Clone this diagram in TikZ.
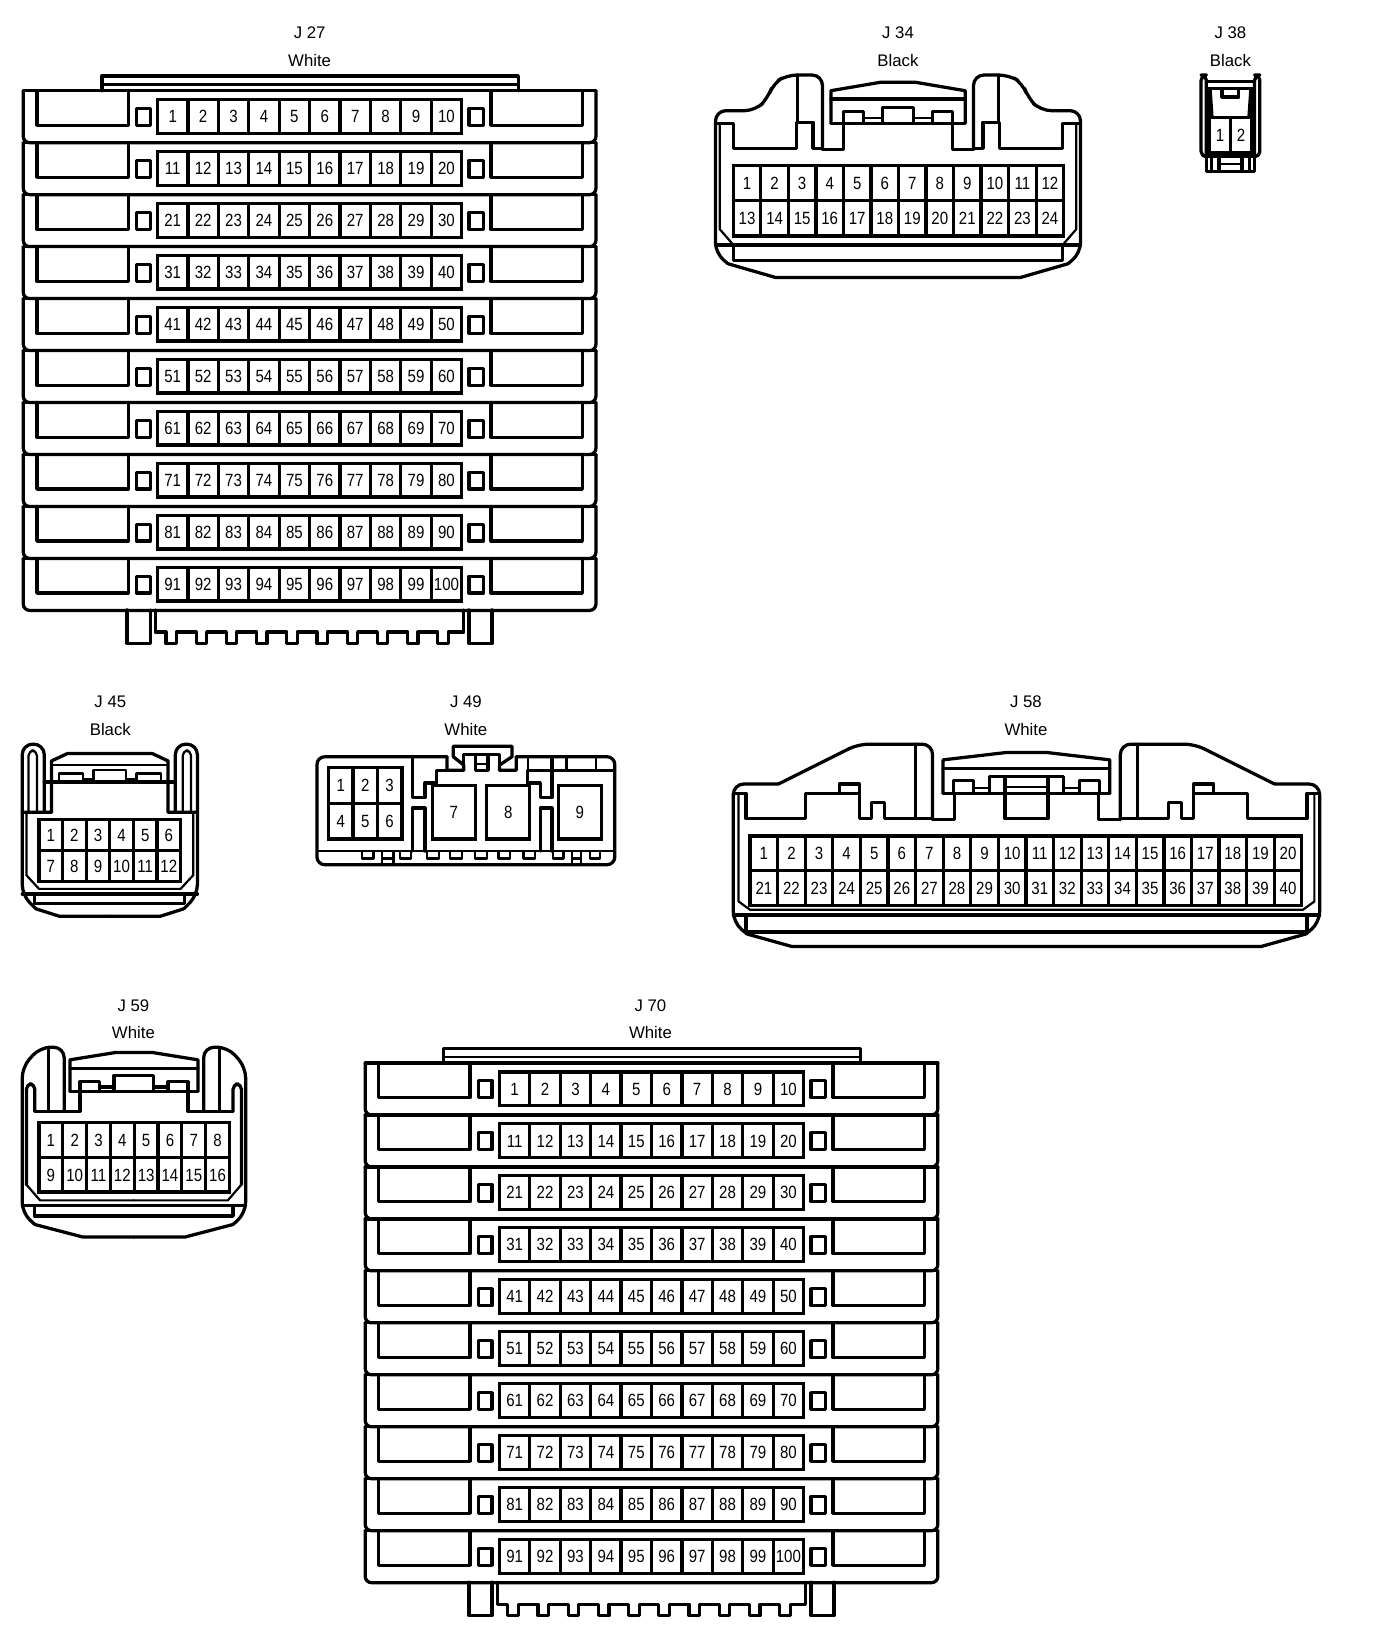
\documentclass[tikz,border=0pt]{standalone}
\usepackage{fontspec}
\setmainfont{Liberation Sans}
\newfontfamily\pinfont[FakeStretch=0.85]{Liberation Sans}
\usetikzlibrary{positioning}

% One block of numbered pin cells: prefix, left, top, columns, rows, cell width, cell height, first number
\newcommand{\pinblock}[8]{%
  \foreach \row in {1,...,#5} {
    \foreach \col in {1,...,#4} {
      \pgfmathsetmacro{\cx}{#2+(\col-0.5)*#6}
      \pgfmathsetmacro{\cy}{#3+(\row-0.5)*#7}
      \pgfmathtruncatemacro{\num}{#8+(\row-1)*#4+\col-1}
      \node[pin, minimum width=#6*0.2mm, minimum height=#7*0.2mm] (#1p\num) at (\cx,\cy) {\num};
    }
  }
}

\begin{document}
\begin{tikzpicture}[x=0.2mm,y=-0.2mm]
% Define styles
\tikzstyle{pin} = [rectangle, draw, line width=0.62mm, inner sep=0pt, outer sep=0pt, text height=6.9pt, text depth=0pt, font=\pinfont\fontsize{9.6}{10}\selectfont]
\tikzstyle{lbl} = [inner sep=0pt, font=\fontsize{9.1}{10}\selectfont]
\tikzstyle{wall} = [line width=0.62mm, line join=round, line cap=round]
\tikzstyle{thin wall} = [line width=0.42mm, line join=round, line cap=round]

\useasboundingbox (-0.2,-1.5) rectangle (1311.8,1567.9);

% Connector labels
\foreach \name/\colr/\lx/\ly in {J 27/White/295/30, J 34/Black/856/30, J 38/Black/1173/30, J 45/Black/105/668, J 49/White/444/668, J 58/White/978/668, J 59/White/127/957, J 70/White/620/957} {
  \node[lbl] (n\lx) at (\lx,\ly) {\name};
  \pgfmathsetmacro{\lc}{\ly+26}
  \node[lbl] (c\lx) at (\lx,\lc) {\colr};
}

% J 27 and J 70, ten stacked rows
\foreach \conn/\dx/\dy in {J27/0/0, J70/326/927} {
\begin{scope}[shift={(\dx,\dy)}]
  \draw[wall] (97,85) -- (97,71) -- (494,71) -- (494,85);
  \draw[thin wall] (97,79) -- (494,79);
  \foreach \row in {0,...,9} {
    \pgfmathsetmacro{\rt}{85+49.55*\row}
    \pgfmathsetmacro{\rb}{\rt+49.55}
    \pgfmathsetmacro{\rp}{\rt+33}
    \pgfmathsetmacro{\sa}{\rt+17}
    \pgfmathsetmacro{\sb}{\rt+33}
    \pgfmathsetmacro{\pt}{\rt+8.5}
    \pgfmathtruncatemacro{\first}{\row*10+1}
    \draw[wall, rounded corners=1.2mm] (22,\rt) -- (22,\rb) -- (568,\rb) -- (568,\rt);
    \draw[wall] (22,\rt) -- (568,\rt);
    \draw[wall] (35,\rt) -- (35,\rp) -- (122,\rp) -- (122,\rt);
    \draw[wall] (468,\rt) -- (468,\rp) -- (555,\rp) -- (555,\rt);
    \draw[wall] (130,\sa) rectangle (143,\sb);
    \draw[wall] (447,\sa) rectangle (461,\sb);
    \pinblock{\conn}{150}{\pt}{10}{1}{29}{32}{\first}
  }
  % legs and comb
  \draw[wall] (121,580) -- (121,612) -- (143,612) -- (143,580);
  \draw[wall] (447,580) -- (447,612) -- (469,612) -- (469,580);
  \draw[wall] (148,580) -- (148,601)
    \foreach \t in {0,...,9} { -- ({158+28.8*\t},601) -- ({158+28.8*\t},612) -- ({168+28.8*\t},612) -- ({168+28.8*\t},601) }
    -- (442,601) -- (442,580);
\end{scope}
}

% J 34
\foreach \flip in {1,-1} {
\begin{scope}[shift={(856,0)},xscale=\flip,shift={(-856,0)}]
  \draw[wall] (856,263) -- (739,263) -- (694,250);
  \draw[wall, rounded corners=2mm] (694,250) -- (682,240) -- (682,104) -- (720,104) -- (732,92) -- (737,78) -- (750,70) -- (784,70) -- (784,141);
  \draw[wall] (784,141) -- (804,141) -- (804,116);
  \draw[wall] (792,116) -- (792,85) -- (839,77) -- (856,77);
  \draw[wall] (792,93) -- (856,93);
  \draw[wall] (792,116) -- (856,116);
  \draw[wall] (804,116) -- (804,105) -- (823,105) -- (823,116);
  \draw[wall] (841,116) -- (841,101) -- (856,101);
  \draw[thin wall] (823,111) -- (841,111);
  \draw[wall] (760,70) -- (760,115);
  \draw[wall] (682,116) -- (699,116) -- (699,140) -- (759,140) -- (759,115) -- (775,115) -- (775,140) -- (784,140);
  \draw[thin wall] (686,116) -- (686,217) -- (699,232);
  \draw[wall] (682,232) -- (856,232);
  \draw[wall] (699,232) -- (699,247) -- (856,247);
\end{scope}
}
\pinblock{J34}{699}{156.5}{12}{2}{26.25}{33.5}{1}

% J 38
\draw[wall, rounded corners=1mm] (1150,148) -- (1145,148) -- (1145,70) -- (1150,70) -- (1150,148);
\draw[wall, rounded corners=1mm] (1196,148) -- (1201,148) -- (1201,70) -- (1196,70) -- (1196,148);
\draw[wall] (1150,148) -- (1196,148);
\draw[wall] (1150,76) -- (1196,76);
\draw[wall] (1152,83) -- (1194,83);
\draw[wall] (1165,84) -- (1165,91) -- (1181,91) -- (1181,84);
\fill (1150,82) -- (1155,82) -- (1157,111) -- (1150,111) -- cycle;
\fill (1196,82) -- (1191,82) -- (1189,111) -- (1196,111) -- cycle;
\pinblock{J38}{1153}{110.5}{2}{1}{20}{34}{1}
\draw[wall] (1150,148) -- (1150,162) -- (1196,162) -- (1196,148);
\draw[wall] (1155,148) -- (1155,162);
\draw[wall] (1191,148) -- (1191,162);
\draw[wall] (1162,148) -- (1162,162);
\draw[wall] (1184,148) -- (1184,162);
\draw[thin wall] (1162,155) -- (1184,155);

% J 45
\foreach \flip in {1,-1} {
\begin{scope}[shift={(104.5,0)},xscale=\flip,shift={(-104.5,0)}]
  \draw[wall] (104.5,872) -- (56,872) -- (34,865);
  \draw[wall, rounded corners=2mm] (34,865) -- (21,852) -- (21,708) -- (42,708) -- (42,773);
  \draw[wall] (21,773) -- (49,773) -- (49,724) -- (64,717) -- (104.5,717);
  \draw[thin wall] (49,728) -- (104.5,728);
  \draw[wall] (42,744) -- (104.5,744);
  \draw[thin wall, rounded corners=1mm] (27,773) -- (27,714) -- (35,714) -- (35,773);
  \draw[thin wall] (56,744) -- (56,736) -- (79,736) -- (79,744);
  \draw[thin wall] (89,744) -- (89,733) -- (104.5,733);
  \draw[thin wall] (79,741) -- (89,741);
  \draw[thin wall] (25,773) -- (25,833) -- (37,846) -- (104.5,846);
  \draw[wall] (21,851) -- (104.5,851);
  \draw[wall] (33,851) -- (33,860) -- (104.5,860);
\end{scope}
}
\pinblock{J45}{37}{780}{6}{2}{22.5}{29.5}{1}

% J 49
\draw[wall, rounded corners=1.5mm] (492,720) -- (586,720) -- (586,823) -- (302,823) -- (302,720) -- (426,720);
\draw[wall] (426,720) -- (426,733) -- (442,733) -- (442,728) -- (432,720) -- (432,710) -- (488,710) -- (488,720) -- (476,728) -- (476,733) -- (492,733) -- (492,720);
\draw[wall] (442,728) -- (442,718) -- (476,718) -- (476,728);
\draw[wall] (453,720) -- (453,733) -- (465,733) -- (465,720);
\draw[thin wall] (453,727) -- (465,727);
\draw[wall] (393,720) -- (393,759) -- (405,759) -- (405,745) -- (416,745) -- (416,733) -- (426,733);
\draw[wall] (503,733) -- (586,733);
\draw[wall] (503,733) -- (503,745) -- (515,745) -- (515,759) -- (526,759) -- (526,720);
\draw[thin wall] (503,720) -- (503,733);
\draw[thin wall] (540,720) -- (540,733);
\draw[thin wall] (568,720) -- (568,733);
\pinblock{J49}{313}{730.5}{3}{2}{23.33}{34}{1}
\node[pin, minimum width=41*0.2mm, minimum height=51*0.2mm] (J49p7) at (432.5,773) {7};
\node[pin, minimum width=41*0.2mm, minimum height=51*0.2mm] (J49p8) at (484.5,773) {8};
\node[pin, minimum width=41*0.2mm, minimum height=51*0.2mm] (J49p9) at (552.5,773) {9};
\draw[wall] (393,810) -- (393,769) -- (405,769) -- (405,810);
\draw[wall] (515,810) -- (515,769) -- (526,769) -- (526,810);
\draw[thin wall] (302,810) -- (586,810);
\foreach \na/\nb in {345/356, 364/375, 381/392, 407/418, 429/440, 453/464, 475/486, 499/510, 527/537, 545/554, 562/572} {
  \draw[thin wall] (\na,810) -- (\na,817) -- (\nb,817) -- (\nb,810);
}
\draw[thin wall] (364,817) -- (364,823);
\draw[thin wall] (375,817) -- (375,823);
\draw[thin wall] (545,817) -- (545,823);
\draw[thin wall] (554,817) -- (554,823);

% J 58
\foreach \flip in {1,-1} {
\begin{scope}[shift={(978.5,0)},xscale=\flip,shift={(-978.5,0)}]
  \draw[wall] (978.5,901) -- (755,901) -- (712,889);
  \draw[wall, rounded corners=2mm] (712,889) -- (699,878) -- (699,746) -- (742,746);
  \draw[wall] (742,746) -- (810,712);
  \draw[wall, rounded corners=2mm] (810,712) -- (818,708) -- (889,708) -- (889,780);
  \draw[wall] (889,780) -- (910,780) -- (910,755);
  \draw[wall] (899,755) -- (899,723) -- (959,716) -- (978.5,716);
  \draw[wall] (899,731) -- (978.5,731);
  \draw[wall] (899,755) -- (978.5,755);
  \draw[wall] (909,755) -- (909,743) -- (928,743) -- (928,755);
  \draw[wall] (943,755) -- (943,739) -- (978.5,739);
  \draw[wall] (958,739) -- (958,779) -- (978.5,779);
  \draw[thin wall] (958,749) -- (978.5,749);
  \draw[thin wall] (928,750) -- (943,750);
  \draw[wall] (699,755) -- (711,755) -- (711,779) -- (768,779) -- (768,755) -- (800,755) -- (800,746) -- (819,746) -- (819,779) -- (831,779) -- (831,764) -- (843,764) -- (843,779) -- (889,779);
  \draw[wall] (800,755) -- (819,755);
  \draw[wall] (873,708) -- (873,779);
  \draw[thin wall] (704,755) -- (704,858) -- (715,866) -- (978.5,866);
  \draw[wall] (699,871) -- (978.5,871);
  \draw[wall] (711,871) -- (711,887) -- (978.5,887);
\end{scope}
}
\pinblock{J58}{715}{795.5}{20}{2}{26.3}{33}{1}

% J 59
\foreach \flip in {1,-1} {
\begin{scope}[shift={(127.5,0)},xscale=\flip,shift={(-127.5,0)}]
  \draw[wall] (127.5,1178) -- (79,1178) -- (33,1166);
  \draw[wall, rounded corners=2mm] (33,1166) -- (21,1155) -- (21,1016) -- (38,997) -- (61,997) -- (61,1058);
  \draw[wall] (33,1058) -- (76,1058) -- (76,1039);
  \draw[wall] (66.5,1039) -- (66.5,1009) -- (110,1002) -- (127.5,1002);
  \draw[wall] (66.5,1017.5) -- (127.5,1017.5);
  \draw[wall] (66.5,1039) -- (127.5,1039);
  \draw[wall] (76,1039) -- (76,1030) -- (95,1030) -- (95,1039);
  \draw[wall] (108.5,1039) -- (108.5,1024) -- (127.5,1024);
  \draw[wall] (95,1035) -- (108.5,1035);
  \draw[wall] (46,997) -- (46,1058);
  \draw[wall, rounded corners=1mm] (33,1058) -- (33,1032) -- (25,1032) -- (25,1128);
  \draw[thin wall] (25,1128) -- (38,1143) -- (127.5,1143);
  \draw[wall] (21,1148) -- (127.5,1148);
  \draw[wall] (33,1148) -- (33,1158) -- (127.5,1158);
\end{scope}
}
\pinblock{J59}{37}{1069}{8}{2}{22.7}{33}{1}
\end{tikzpicture}
\end{document}
